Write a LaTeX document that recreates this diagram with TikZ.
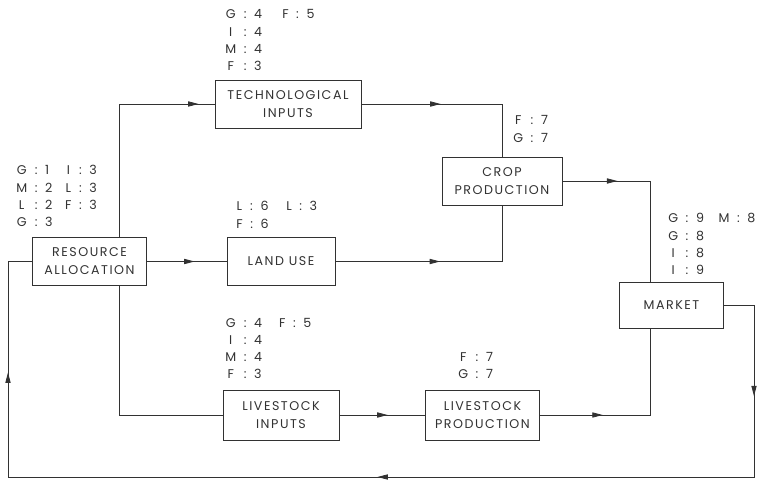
\documentclass[tikz,border=0pt]{standalone}
\usepackage{fontspec}
\setmainfont{Poppins}[LetterSpace=12]
\usetikzlibrary{calc,arrows.meta,decorations.markings}

\definecolor{ink}{RGB}{50,50,50}

\tikzset{
  block/.style={draw=ink, line width=0.6pt, align=center, inner sep=0pt,
    font=\fontsize{9}{12.8}\selectfont, text=ink},
  tally/.style={anchor=base west, inner sep=0pt, text=ink,
    font=\fontsize{9}{12.3}\selectfont},
  flow/.style={draw=ink, line width=0.6pt},
  arrowat/.style={postaction={decorate, decoration={markings,
    mark=at position #1 with {\arrow{Triangle[length=2.6mm, width=1.3mm]}}}}}
}

% letter : value pairs, one or two columns
\newcommand{\pairs}[2][1.6em]{\begin{tabular}[t]{@{}c@{\hspace{0.6em}:\hspace{0.6em}}l@{\hspace{#1}}c@{\hspace{0.6em}:\hspace{0.6em}}l@{}}#2\end{tabular}}

\begin{document}
\begin{tikzpicture}[x=0.025cm, y=-0.025cm]

    % Frame of the picture
    \useasboundingbox (0,0) rectangle (761,484);

    % The seven blocks
    \node[block, minimum width=2.83cm, minimum height=1.18cm] (ra) at (89.5,261.5) {RESOURCE\\ALLOCATION};
    \node[block, minimum width=3.65cm, minimum height=1.2cm] (tech) at (288,104) {TECHNOLOGICAL\\INPUTS};
    \node[block, minimum width=2.7cm, minimum height=1.18cm] (land) at (281,261.5) {LAND USE};
    \node[block, minimum width=3.0cm, minimum height=1.2cm] (crop) at (502,181) {CROP\\PRODUCTION};
    \node[block, minimum width=2.58cm, minimum height=1.13cm] (market) at (671.5,305.5) {MARKET};
    \node[block, minimum width=2.9cm, minimum height=1.25cm] (li) at (281,415) {LIVESTOCK\\INPUTS};
    \node[block, minimum width=2.83cm, minimum height=1.25cm] (lp) at (482.5,415) {LIVESTOCK\\PRODUCTION};

    % Corners of the feedback loop
    \coordinate (loopse) at (754,477);
    \coordinate (loopsw) at (8,477);

    % Upper branch: technology into crops
    \draw[flow, arrowat=0.93] ($(ra.north east)+(-27,0)$) |- (tech.west);
    \draw[flow, arrowat=0.41] (tech.east) -| (crop.north);

    % Middle branch: land into crops
    \draw[flow, arrowat=0.6] (ra.east) -- (land.west);
    \draw[flow, arrowat=0.47] (land.east) -| (crop.south);

    % Crops to the market
    \draw[flow, arrowat=0.29] (crop.east) -| ($(market.north west)+(31,0)$);

    % Lower branch: livestock
    \draw[flow] ($(ra.south east)+(-27,0)$) |- (li.west);
    \draw[flow, arrowat=0.56] (li.east) -- (lp.west);
    \draw[flow, arrowat=0.32] (lp.east) -| ($(market.south west)+(31,0)$);

    % Feedback from the market back to the allocation
    \draw[flow, arrowat=0.102, arrowat=0.487, arrowat=0.886]
      (market.east) -| (loopse) -- (loopsw) |- (ra.west);

    % Tallies beside the blocks
    \node[tally] (tallyra) at (16,175) {\pairs[1.0em]{G & 1 & I & 3\\ M & 2 & L & 3\\ L & 2 & F & 3\\ G & 3 \\}};
    \node[tally] (tallytech) at (225,19) {\pairs{G & 4 & F & 5\\ I & 4\\ M & 4\\ F & 3\\}};
    \node[tally] (tallyland) at (236,211) {\pairs[1.4em]{L & 6 & L & 3\\ F & 6\\}};
    \node[tally] (tallycrop) at (513,125) {\pairs{F & 7\\ G & 7\\}};
    \node[tally] (tallymarket) at (668,223) {\pairs[1.15em]{G & 9 & M & 8\\ G & 8\\ I & 8\\ I & 9\\}};
    \node[tally] (tallyli) at (225,327) {\pairs[1.35em]{G & 4 & F & 5\\ I & 4\\ M & 4\\ F & 3\\}};
    \node[tally] (tallylp) at (458,361) {\pairs{F & 7\\ G & 7\\}};

\end{tikzpicture}
\end{document}
